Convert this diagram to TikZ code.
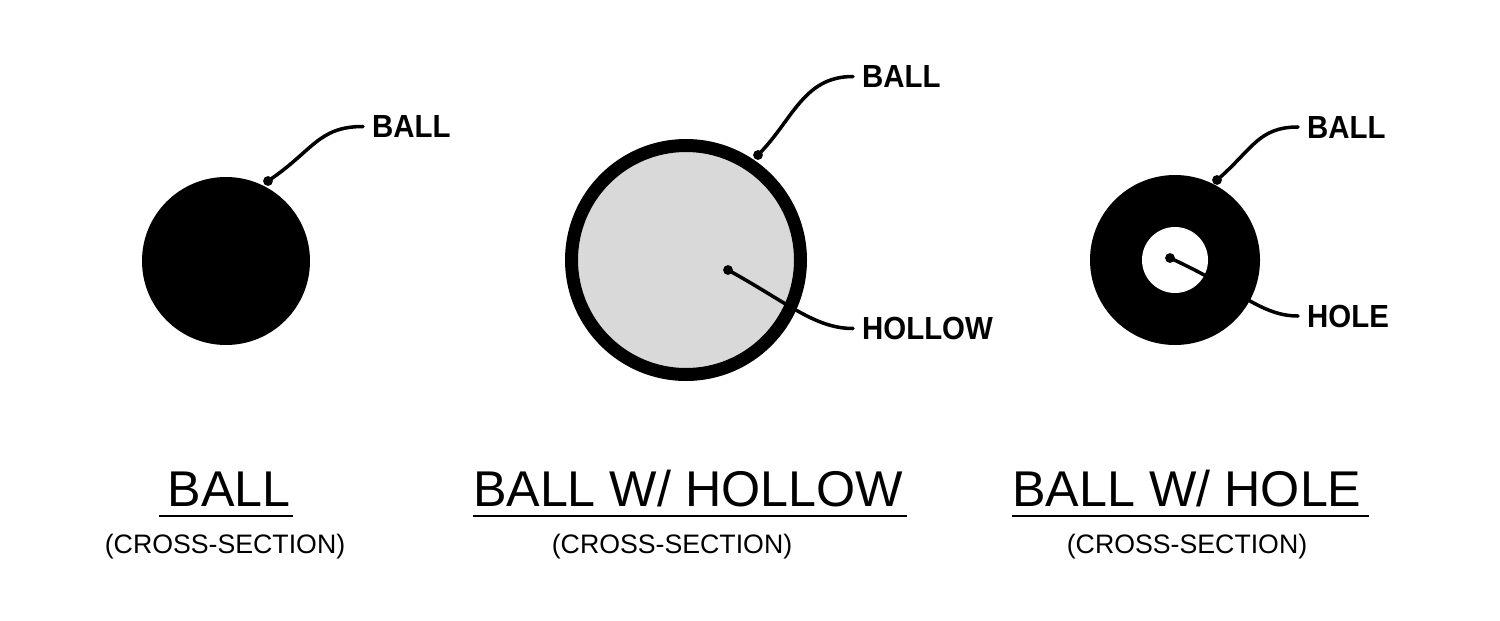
\documentclass[tikz,border=0pt]{standalone}
\usepackage{fontspec}
\setmainfont{Liberation Sans}
\newfontfamily\calloutfont[FakeStretch=0.92]{Liberation Sans}
\usetikzlibrary{positioning,calc}
\definecolor{hollowgray}{RGB}{217,217,217}

\begin{document}
\begin{tikzpicture}[
    x=0.02cm,y=0.02cm,
    leader/.style={line width=2pt,line cap=round},
    pindot/.style={circle,fill=black,inner sep=0pt,minimum size=5.6pt},
    calltext/.style={anchor=west,inner xsep=5pt,inner ysep=0pt,font=\calloutfont\bfseries\fontsize{18.2}{20}\selectfont},
    heading/.style={anchor=base,inner sep=0pt,font=\fontsize{28.6}{32}\selectfont},
    subheading/.style={anchor=base,inner sep=0pt,font=\fontsize{15.2}{18}\selectfont},
    titlerule/.style={line width=1.6pt}
]
    \useasboundingbox (0,0) rectangle (1500,620);

    \fill (226,359) circle (84);
    \draw[line width=7.4pt,fill=hollowgray] (686,360) circle (114.5);
    \fill (1175,360) circle (85);
    \fill[white] (1175,360) circle (33);

    \node[pindot] (solid) at (268,439) {};
    \node[pindot] (shell) at (758,465) {};
    \node[pindot] (hollow) at (728,350) {};
    \node[pindot] (ring) at (1217,440) {};
    \node[pindot] (hole) at (1170,362) {};

    \node[calltext] (solidlbl) at (363,493.5) {BALL};
    \node[calltext] (shelllbl) at (853,543.5) {BALL};
    \node[calltext] (hollowlbl) at (853,291.5) {HOLLOW};
    \node[calltext] (ringlbl) at (1298,493) {BALL};
    \node[calltext] (holelbl) at (1298,304) {HOLE};

    \draw[leader] (solid.center) .. controls +(45,30) and +(-45,0) .. (solidlbl.west);
    \draw[leader] (shell.center) .. controls +(35,35) and +(-50,0) .. (shelllbl.west);
    \draw[leader] (hollow.center) .. controls +(60,-33) and +(-38,0) .. (hollowlbl.west);
    \draw[leader] (ring.center) .. controls +(35,30) and +(-40,0) .. (ringlbl.west);
    \draw[leader] (hole.center) .. controls +(70,-32) and +(-37,0) .. (holelbl.west);

    \node[heading] (ballttl) at (229,114) {BALL};
    \node[heading] (hollowttl) at (688,114) {BALL W/ HOLLOW};
    \node[heading] (holettl) at (1187,114) {BALL W/ HOLE};

    \node[subheading] (ballsub) at (225,67) {(CROSS-SECTION)};
    \node[subheading] (hollowsub) at (672,67) {(CROSS-SECTION)};
    \node[subheading] (holesub) at (1187,67) {(CROSS-SECTION)};

    \draw[titlerule] ($(ballttl.base west)+(-8,-10)$) -- ($(ballttl.base east)+(2,-10)$);
    \draw[titlerule] ($(hollowttl.base west)+(0,-10)$) -- ($(hollowttl.base east)+(4,-10)$);
    \draw[titlerule] ($(holettl.base west)+(0,-10)$) -- ($(holettl.base east)+(7,-10)$);
\end{tikzpicture}
\end{document}
